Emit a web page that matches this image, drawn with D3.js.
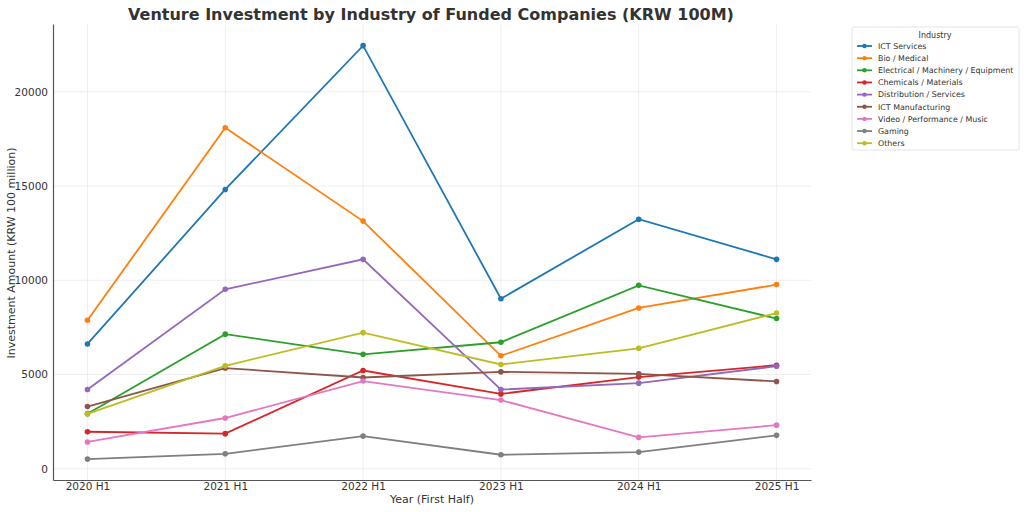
<!DOCTYPE html>
<html>
<head>
<meta charset="utf-8">
<script src="https://cdn.jsdelivr.net/npm/d3@7"></script>
<style>
  body { margin: 0; background: #fff; }
  svg { font-family: "DejaVu Sans", sans-serif; }
</style>
</head>
<body>
<svg id="chart" width="1024" height="512"></svg>
<script>
// data
const periods = ["2020 H1", "2021 H1", "2022 H1", "2023 H1", "2024 H1", "2025 H1"];
const industries = ["ICT Services", "Bio / Medical", "Electrical / Machinery / Equipment",
  "Chemicals / Materials", "Distribution / Services", "ICT Manufacturing",
  "Video / Performance / Music", "Gaming", "Others"];
const ictServices = [6620, 14820, 22450, 9020, 13240, 11110];
const bioMedical = [7880, 18090, 13140, 5990, 8530, 9770];
const electrical = [2920, 7140, 6070, 6710, 9730, 7970];
const chemicals = [1960, 1860, 5210, 3970, 4860, 5490];
const distribution = [4200, 9520, 11110, 4200, 4540, 5440];
const ictManufacturing = [3300, 5340, 4840, 5140, 5030, 4630];
const videoMusic = [1420, 2690, 4650, 3640, 1660, 2310];
const gaming = [510, 790, 1730, 740, 880, 1770];
const others = [2910, 5460, 7220, 5530, 6390, 8260];
const yTicks = [0, 5000, 10000, 15000, 20000];
const colors = ["#1f77b4", "#ff7f0e", "#2ca02c", "#d62728", "#9467bd",
  "#8c564b", "#e377c2", "#7f7f7f", "#bcbd22"];

const seriesValues = [ictServices, bioMedical, electrical, chemicals, distribution,
  ictManufacturing, videoMusic, gaming, others];
const series = industries.map((name, i) => ({ name: name, values: seriesValues[i], color: colors[i] }));

const svg = d3.select("#chart");
const plot = { left: 53, right: 811, top: 24, bottom: 480 };
const font = "DejaVu Sans, sans-serif";

const xScale = d3.scaleLinear()
  .domain([-0.25, periods.length - 0.75])
  .range([plot.left, plot.right]);
const yScale = d3.scaleLinear()
  .domain([-600, 23600])
  .range([plot.bottom, plot.top]);

// grid
const grid = svg.append("g").attr("class", "grid");
grid.selectAll("line.vg")
  .data(periods)
  .enter().append("line")
  .attr("x1", (d, i) => xScale(i)).attr("x2", (d, i) => xScale(i))
  .attr("y1", plot.top).attr("y2", plot.bottom)
  .attr("stroke", "#ebebeb").attr("stroke-width", 0.8);
grid.selectAll("line.hg")
  .data(yTicks)
  .enter().append("line")
  .attr("x1", plot.left).attr("x2", plot.right)
  .attr("y1", d => yScale(d)).attr("y2", d => yScale(d))
  .attr("stroke", "#ebebeb").attr("stroke-width", 0.8);

// axes
const xAxis = svg.append("g")
  .attr("transform", `translate(0, ${plot.bottom})`)
  .call(d3.axisBottom(xScale).tickValues(d3.range(periods.length))
    .tickFormat(i => periods[i]).tickSize(0).tickSizeOuter(0).tickPadding(3));
const yAxis = svg.append("g")
  .attr("transform", `translate(${plot.left}, 0)`)
  .call(d3.axisLeft(yScale).tickValues(yTicks).tickFormat(d3.format("d"))
    .tickSize(0).tickSizeOuter(0).tickPadding(5));
[xAxis, yAxis].forEach(ax => {
  ax.attr("font-family", font).attr("font-size", 10.5);
  ax.select(".domain").attr("stroke", "#555").attr("stroke-width", 1.2);
  ax.selectAll(".tick text").attr("fill", "#333");
});

// lines
const line = d3.line()
  .x((d, i) => xScale(i))
  .y(d => yScale(d));

const groups = svg.selectAll("g.series")
  .data(series)
  .enter().append("g")
  .attr("class", "series");
groups.append("path")
  .attr("d", d => line(d.values))
  .attr("fill", "none")
  .attr("stroke", d => d.color)
  .attr("stroke-width", 1.8);
groups.selectAll("circle")
  .data(d => d.values.map(v => ({ v: v, color: d.color })))
  .enter().append("circle")
  .attr("cx", (d, i) => xScale(i))
  .attr("cy", d => yScale(d.v))
  .attr("r", 2.8)
  .attr("fill", d => d.color);

// titles
svg.append("text")
  .attr("x", 431).attr("y", 20)
  .attr("text-anchor", "middle")
  .attr("font-size", 16).attr("font-weight", "bold").attr("fill", "#333")
  .text("Venture Investment by Industry of Funded Companies (KRW 100M)");
svg.append("text")
  .attr("x", 432).attr("y", 503)
  .attr("text-anchor", "middle")
  .attr("font-size", 11).attr("fill", "#333")
  .text("Year (First Half)");
svg.append("text")
  .attr("transform", "translate(15, 253) rotate(-90)")
  .attr("text-anchor", "middle")
  .attr("font-size", 11).attr("fill", "#333")
  .text("Investment Amount (KRW 100 million)");

// legend
const legend = svg.append("g").attr("transform", "translate(852, 27)");
legend.append("rect")
  .attr("width", 167).attr("height", 123)
  .attr("rx", 2)
  .attr("fill", "#fff").attr("stroke", "#ddd").attr("stroke-width", 0.8);
legend.append("text")
  .attr("x", 83).attr("y", 11)
  .attr("text-anchor", "middle")
  .attr("font-size", 8).attr("fill", "#333")
  .text("Industry");
const items = legend.selectAll("g.item")
  .data(series)
  .enter().append("g")
  .attr("class", "item")
  .attr("transform", (d, i) => `translate(0, ${19 + i * 12.15})`);
items.append("line")
  .attr("x1", 5).attr("x2", 20)
  .attr("stroke", d => d.color).attr("stroke-width", 1.8);
items.append("circle")
  .attr("cx", 12.5).attr("r", 2.2)
  .attr("fill", d => d.color);
items.append("text")
  .attr("x", 26).attr("dy", "0.35em")
  .attr("font-size", 7.9).attr("fill", "#333")
  .text(d => d.name);
</script>
</body>
</html>
